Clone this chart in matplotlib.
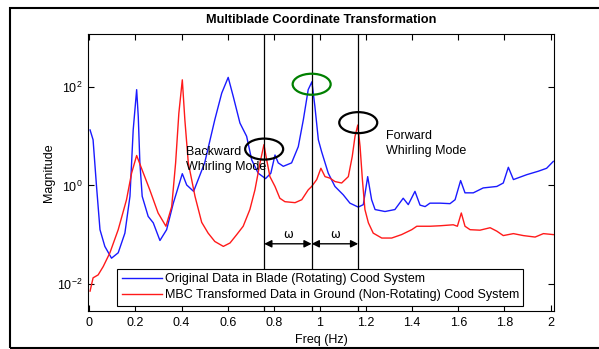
import numpy as np
import matplotlib
matplotlib.use("Agg")
import matplotlib.pyplot as plt
from matplotlib.patches import Ellipse, Rectangle
from matplotlib.ticker import FixedLocator, NullLocator

plt.rcParams['font.family'] = ['Liberation Sans', 'DejaVu Sans']
plt.rcParams['mathtext.fontset'] = 'custom'
plt.rcParams['mathtext.rm'] = 'Liberation Sans'
plt.rcParams['mathtext.it'] = 'Liberation Sans:italic'

# ---- data ----
blue_freq = [0.003, 0.016, 0.031, 0.046, 0.067, 0.096, 0.125, 0.154, 0.176, 0.190,
             0.205, 0.212, 0.219, 0.229, 0.255, 0.277, 0.306, 0.335, 0.364, 0.403,
             0.422, 0.452, 0.500, 0.544, 0.574, 0.602, 0.624, 0.653, 0.682, 0.704,
             0.732, 0.764, 0.787, 0.805, 0.819, 0.841, 0.877, 0.906, 0.928, 0.949,
             0.965, 0.978, 0.993, 1.007, 1.036, 1.065, 1.101, 1.130, 1.166, 1.188,
             1.207, 1.224, 1.239, 1.282, 1.325, 1.361, 1.383, 1.412, 1.434, 1.456,
             1.477, 1.521, 1.564, 1.586, 1.610, 1.629, 1.665, 1.708, 1.767, 1.795,
             1.817, 1.839, 1.897, 1.947, 1.983, 2.012]
blue_log10_mag = [1.13, 0.93, -0.02, -0.90, -1.24, -1.48, -1.37, -0.97, -0.22, 1.13,
                  1.95, 1.40, 0.46, -0.22, -0.63, -0.76, -1.12, -0.90, -0.36, 0.24,
                  0.01, -0.12, 0.46, 1.34, 1.88, 2.20, 1.81, 1.27, 1.00, 0.52,
                  0.25, 0.14, 0.25, 0.62, 0.46, 0.39, 0.46, 0.79, 1.34, 1.95,
                  2.11, 1.61, 0.93, 0.69, 0.25, -0.02, -0.19, -0.36, -0.44, -0.39,
                  0.18, -0.29, -0.49, -0.53, -0.49, -0.26, -0.39, -0.12, -0.40, -0.43,
                  -0.36, -0.36, -0.37, -0.29, 0.10, -0.15, -0.15, -0.05, -0.02, 0.05,
                  0.37, 0.12, 0.22, 0.29, 0.35, 0.49]

red_freq = [0.003, 0.016, 0.038, 0.060, 0.089, 0.125, 0.161, 0.183, 0.205, 0.226,
            0.262, 0.298, 0.332, 0.357, 0.374, 0.388, 0.403, 0.414, 0.429, 0.458,
            0.487, 0.515, 0.544, 0.581, 0.610, 0.639, 0.667, 0.696, 0.718, 0.740,
            0.757, 0.769, 0.783, 0.805, 0.826, 0.848, 0.892, 0.921, 0.949, 0.964,
            0.986, 1.004, 1.022, 1.043, 1.065, 1.094, 1.123, 1.140, 1.152, 1.164,
            1.174, 1.184, 1.195, 1.210, 1.231, 1.268, 1.311, 1.354, 1.398, 1.420,
            1.448, 1.477, 1.521, 1.578, 1.596, 1.613, 1.629, 1.651, 1.694, 1.738,
            1.767, 1.795, 1.839, 1.882, 1.933, 1.969, 2.012]
red_log10_mag = [-2.15, -1.88, -1.82, -1.65, -1.37, -0.90, -0.29, 0.25, 0.61, 0.35,
                 -0.09, -0.56, -0.83, -0.43, 0.46, 1.47, 2.15, 1.34, 0.46, -0.22,
                 -0.75, -0.97, -1.14, -1.24, -1.17, -1.00, -0.83, -0.49, -0.09, 0.46,
                 0.83, 0.52, 0.18, -0.02, -0.26, -0.33, -0.35, -0.29, -0.09, -0.02,
                 0.12, 0.35, 0.18, 0.15, 0.08, 0.05, 0.18, 0.59, 1.00, 1.23,
                 0.79, 0.12, -0.49, -0.76, -0.97, -1.07, -1.07, -1.00, -0.90, -0.83,
                 -0.83, -0.83, -0.82, -0.80, -0.83, -0.56, -0.83, -0.90, -0.91, -0.86,
                 -0.93, -1.02, -0.98, -1.02, -1.05, -0.98, -1.00]

mode_freqs = [0.758, 0.964, 1.166]          # backward, rotor, forward
ellipse_mag = [5.5, 115.0, 19.0]
ellipse_colors = ['black', 'green', 'black']
arrow_mag = 0.065
omega_mag = 0.10

series_labels = ['Original Data in Blade (Rotating) Cood System',
                 'MBC Transformed Data in Ground (Non-Rotating) Cood System']
x_ticks = [0, 0.2, 0.4, 0.6, 0.8, 1, 1.2, 1.4, 1.6, 1.8, 2]
x_tick_labels = ['0', '0.2', '0.4', '0.6', '0.8', '1', '1.2', '1.4', '1.6', '1.8', '2']
y_ticks = [1e-2, 1e0, 1e2]

# ---- figure ----
fig = plt.figure(figsize=(5.99, 3.49), dpi=100)
ax = fig.add_axes([88/599, 1 - 311/349, (554 - 88)/599, (311 - 34)/349])

ax.plot(blue_freq, 10 ** np.array(blue_log10_mag), color='#1a1aff', lw=1.0,
        label=series_labels[0])
ax.plot(red_freq, 10 ** np.array(red_log10_mag), color='#ff1a1a', lw=1.0,
        label=series_labels[1])

ax.set_yscale('log')
ax.set_xlim(-0.006, 2.015)
ax.set_ylim(10 ** -2.555, 10 ** 3.083)

for f in mode_freqs:
    ax.axvline(f, color='black', lw=0.9, zorder=3)

# arrows
for a, b in [(mode_freqs[0], mode_freqs[1]), (mode_freqs[1], mode_freqs[2])]:
    ax.annotate('', xy=(b, arrow_mag), xytext=(a, arrow_mag),
                arrowprops=dict(arrowstyle='<|-|>', color='black', lw=1.0,
                                mutation_scale=11, shrinkA=0, shrinkB=0))
    ax.text((a + b) / 2, omega_mag, 'ω', ha='center', va='center', fontsize=8.5,
            family=['DejaVu Sans'])

ax.text(0.418, 6.3, 'Backward\nWhirling Mode', fontsize=9, ha='left', va='top',
        linespacing=1.3)
ax.text(1.285, 13.5, 'Forward\nWhirling Mode', fontsize=9, ha='left', va='top',
        linespacing=1.3)

# ellipses in axes coordinates around data points
fig.canvas.draw()
to_axes = ax.transData + ax.transAxes.inverted()
for f, m, c in zip(mode_freqs, ellipse_mag, ellipse_colors):
    cx, cy = to_axes.transform((f, m))
    ax.add_patch(Ellipse((cx, cy), 38/466, 21/277, transform=ax.transAxes,
                         fill=False, edgecolor=c, lw=1.6, zorder=5))

ax.set_xticks(x_ticks)
ax.set_xticklabels(x_tick_labels)
ax.yaxis.set_major_locator(FixedLocator(y_ticks))
ax.yaxis.set_minor_locator(NullLocator())
ax.tick_params(direction='in', top=True, right=True, length=4, width=0.8,
               labelsize=9, pad=4)
for s in ax.spines.values():
    s.set_linewidth(0.8)

ax.set_title('Multiblade Coordinate Transformation', fontsize=9.2,
             fontweight='bold', pad=8)
ax.set_xlabel('Freq (Hz)', fontsize=9, labelpad=4)
ax.set_ylabel('Magnitude', fontsize=9, labelpad=1.5)

leg = ax.legend(loc='lower left', bbox_to_anchor=(0.063, 0.019), fontsize=9,
                frameon=True, fancybox=False, edgecolor='black', framealpha=1,
                handlelength=3.2, handletextpad=0.25, borderpad=0.35,
                labelspacing=0.35, borderaxespad=0)
leg.get_frame().set_linewidth(0.8)
leg.set_zorder(10)

fig.add_artist(Rectangle((10/599, 1 - 347.5/349), 0.99, (347.5 - 7.5)/349,
                         transform=fig.transFigure, fill=False,
                         edgecolor='black', lw=1.5))

fig.savefig('out.png', dpi=100)
